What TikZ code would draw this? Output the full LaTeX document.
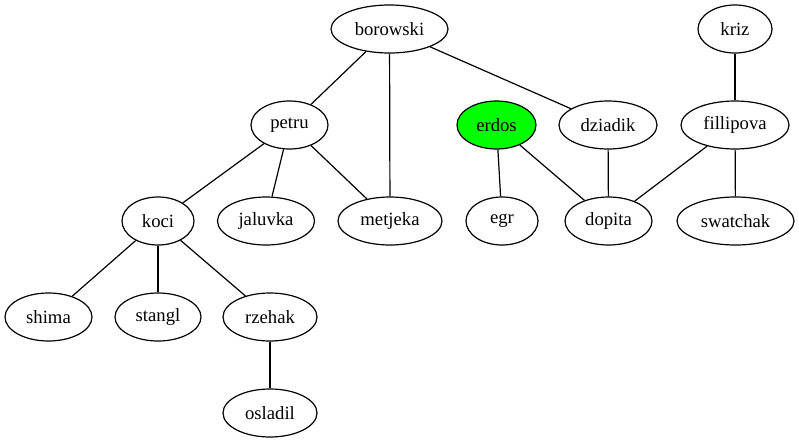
\documentclass[tikz,border=0pt]{standalone}
\usepackage{fontspec}
\setmainfont{Liberation Serif}
\usetikzlibrary{shapes.geometric}
\definecolor{erdosgreen}{RGB}{0,255,0}

\begin{document}
\begin{tikzpicture}[x=0.75pt,y=-0.75pt,
		person/.style={ellipse,draw=black,line width=0.9pt,inner sep=1pt,minimum height=36pt,font=\fontsize{14pt}{16pt}\selectfont},
		link/.style={draw=black,line width=0.9pt}]
			\useasboundingbox (0,0) rectangle (799,443);

			% first row
			\node[person,minimum width=87.75pt] (borowski) at (389.5,29) {borowski};
			\node[person,minimum width=55.5pt] (kriz) at (735,29) {kriz};

			% second row
			\node[person,minimum width=57.75pt] (petru) at (289.5,125) {petru};
			\node[person,minimum width=59.25pt,fill=erdosgreen] (erdos) at (496.5,125) {erdos};
			\node[person,minimum width=73.5pt] (dziadik) at (608,125) {dziadik};
			\node[person,minimum width=81pt] (fillipova) at (735,125) {fillipova};

			% third row
			\node[person,minimum width=54pt] (koci) at (158,221) {koci};
			\node[person,minimum width=72.75pt] (jaluvka) at (266,221) {jaluvka};
			\node[person,minimum width=78pt] (metjeka) at (390,221) {metjeka};
			\node[person,minimum width=54pt] (egr) at (502,221) {egr};
			\node[person,minimum width=65.25pt] (dopita) at (608.5,221) {dopita};
			\node[person,minimum width=87.75pt] (swatchak) at (735.5,221) {swatchak};

			% fourth and fifth row
			\node[person,minimum width=65.25pt] (shima) at (48.5,317) {shima};
			\node[person,minimum width=64.5pt] (stangl) at (158,317) {stangl};
			\node[person,minimum width=70.5pt] (rzehak) at (270,317) {rzehak};
			\node[person,minimum width=70.5pt] (osladil) at (270,413) {osladil};

			\draw[link] (borowski) -- (petru);
			\draw[link] (borowski) -- (metjeka);
			\draw[link] (borowski) -- (dziadik);
			\draw[link] (kriz) -- (fillipova);
			\draw[link] (petru) -- (koci);
			\draw[link] (petru) -- (jaluvka);
			\draw[link] (petru) -- (metjeka);
			\draw[link] (erdos) -- (egr);
			\draw[link] (erdos) -- (dopita);
			\draw[link] (dziadik) -- (dopita);
			\draw[link] (fillipova) -- (dopita);
			\draw[link] (fillipova) -- (swatchak);
			\draw[link] (koci) -- (shima);
			\draw[link] (koci) -- (stangl);
			\draw[link] (koci) -- (rzehak);
			\draw[link] (rzehak) -- (osladil);
		\end{tikzpicture}
\end{document}
